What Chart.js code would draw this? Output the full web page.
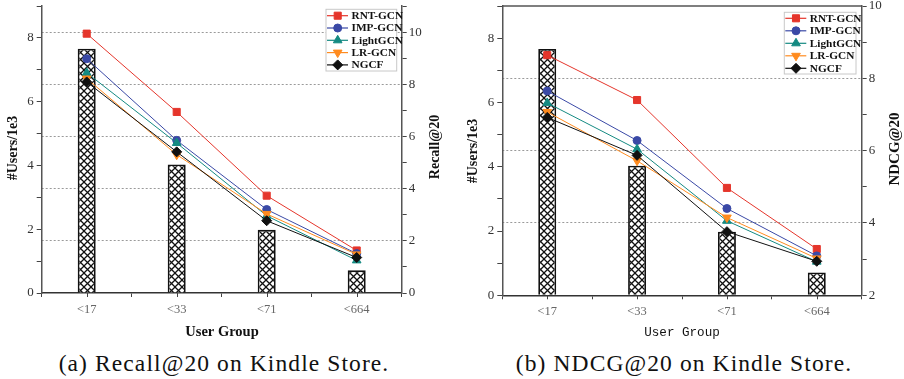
<!DOCTYPE html>
<html><head><meta charset="utf-8">
<script src="https://cdn.jsdelivr.net/npm/chart.js@4.4.0/dist/chart.umd.min.js"></script>
<style>
body{margin:0;background:#fff;width:904px;height:379px;overflow:hidden;position:relative;}
canvas{position:absolute;top:0}
.cap{position:absolute;top:349px;font-family:"Liberation Serif","Times New Roman",serif;font-size:23.5px;letter-spacing:1.1px;color:#111;white-space:nowrap;transform:translateX(-50%);line-height:28px}
</style></head><body>
<canvas id="c1" width="460" height="345" style="left:0"></canvas>
<canvas id="c2" width="444" height="345" style="left:460px"></canvas>
<div class="cap" style="left:224px">(a) Recall@20 on Kindle Store.</div>
<div class="cap" style="left:684px">(b) NDCG@20 on Kindle Store.</div>
<script>
// ---- data ----
const groups = ['<17', '<33', '<71', '<664'];
const users = [7.66, 4.03, 1.98, 0.71];
const methods = ['RNT-GCN', 'IMP-GCN', 'LightGCN', 'LR-GCN', 'NGCF'];
const recallRNT   = [9.94, 6.94, 3.73, 1.63];
const recallIMP   = [8.98, 5.85, 3.20, 1.51];
const recallLight = [8.44, 5.75, 2.96, 1.25];
const recallLR    = [8.22, 5.30, 3.03, 1.48];
const recallNGCF  = [8.09, 5.41, 2.77, 1.36];
const ndcgRNT   = [8.64, 7.40, 4.97, 3.28];
const ndcgIMP   = [7.65, 6.28, 4.40, 3.09];
const ndcgLight = [7.32, 6.04, 4.06, 2.93];
const ndcgLR    = [7.07, 5.72, 4.15, 3.02];
const ndcgNGCF  = [6.92, 5.87, 3.76, 2.94];

// ---- styles ----
const colors = ['#e5352b', '#3a49a6', '#148a82', '#ff8b1f', '#111111'];
const pStyles = ['rect', 'circle', 'triangle', 'triangle', 'rectRot'];
const pRot = [0, 0, 0, 180, 0];
const pRad = [5, 4, 5, 5, 5];
const SERIF = '"Liberation Serif", "Times New Roman", serif';

function hatchPattern() {
  const c = document.createElement('canvas');
  const n = 7;
  c.width = n; c.height = n;
  const g = c.getContext('2d');
  g.fillStyle = '#fff'; g.fillRect(0, 0, n, n);
  g.strokeStyle = '#111'; g.lineWidth = 1.3;
  g.beginPath();
  g.moveTo(-1, -1); g.lineTo(n + 1, n + 1);
  g.moveTo(n + 1, -1); g.lineTo(-1, n + 1);
  g.stroke();
  return g.createPattern(c, 'repeat');
}

const decor = {
  id: 'decor',
  afterDraw(chart, args, o) {
    const ctx = chart.ctx, a = chart.chartArea;
    ctx.save();
    if (o.topBorder) {
      ctx.strokeStyle = '#555'; ctx.lineWidth = 1.5;
      ctx.beginPath(); ctx.moveTo(a.left, a.top); ctx.lineTo(a.right, a.top); ctx.stroke();
    }
    const xs = chart.scales.x;
    ctx.strokeStyle = '#444'; ctx.lineWidth = 1;
    groups.forEach((g, i) => {
      const px = Math.round(xs.getPixelForValue(i)) + 0.5;
      ctx.beginPath(); ctx.moveTo(px, a.bottom); ctx.lineTo(px, a.bottom + 4); ctx.stroke();
    });
    o.titles.forEach(t => {
      ctx.save();
      ctx.translate(t.x, t.y); ctx.rotate(t.rot || 0);
      ctx.font = t.font; ctx.fillStyle = '#111';
      ctx.textAlign = 'center'; ctx.textBaseline = 'middle';
      ctx.fillText(t.text, 0, 0);
      ctx.restore();
    });
    const L = o.legend;
    ctx.fillStyle = '#fff'; ctx.fillRect(L.x, L.y, L.w, L.h);
    ctx.strokeStyle = '#c8c8c8'; ctx.lineWidth = 1; ctx.strokeRect(L.x, L.y, L.w, L.h);
    chart.data.datasets.filter(d => d.type === 'line').forEach((d, i) => {
      const y = L.y + L.first + i * L.gap;
      ctx.strokeStyle = d.borderColor; ctx.lineWidth = 1.2;
      ctx.beginPath(); ctx.moveTo(L.x + 1, y); ctx.lineTo(L.x + 22, y); ctx.stroke();
      ctx.fillStyle = d.backgroundColor; ctx.strokeStyle = d.borderColor; ctx.lineWidth = 1;
      Chart.helpers.drawPoint(ctx, {pointStyle: d.pointStyle, rotation: d.pointRotation || 0, radius: d.pointRadius, borderWidth: 1}, L.x + 11.7, y);
      ctx.fillStyle = '#111'; ctx.font = 'bold 11.3px ' + SERIF;
      ctx.textAlign = 'left'; ctx.textBaseline = 'middle';
      ctx.fillText(d.label, L.x + 25.5, y + 0.5);
    });
    ctx.restore();
  }
};

function lineSets(series) {
  return series.map((s, i) => ({
    type: 'line', label: methods[i], data: s, yAxisID: 'y1',
    borderColor: colors[i], backgroundColor: colors[i], borderWidth: 1,
    pointStyle: pStyles[i], pointRotation: pRot[i], pointRadius: pRad[i],
    pointBorderWidth: 1, pointHoverRadius: pRad[i], order: 5 - i
  }));
}

function build(id, series, y1min, y1max, geo, plug) {
  const canvas = document.getElementById(id);
  const pattern = hatchPattern();
  const serif = SERIF;
  return new Chart(canvas, {
    data: {
      labels: groups,
      datasets: [{
        type: 'bar', label: '#Users/1e3', data: users, yAxisID: 'y',
        backgroundColor: pattern, borderColor: '#111', borderWidth: 1.8,
        barPercentage: 0.2, categoryPercentage: 1, order: 10
      }].concat(lineSets(series))
    },
    options: {
      responsive: false, animation: false, devicePixelRatio: 1,
      layout: {padding: {top: geo.top, left: 0, right: 0, bottom: 0}},
      plugins: {legend: {display: false}, tooltip: {enabled: false}, decor: plug},
      scales: {
        x: {
          type: 'category', offset: true,
          grid: {offset: true, drawOnChartArea: false, drawTicks: true, tickLength: 4, tickColor: '#444'},
          border: {display: true, color: '#333', width: 1.5},
          ticks: {color: '#666', font: {family: serif, size: 12.5}, padding: 5, maxRotation: 0, autoSkip: false},
          afterFit: s => { s.height = geo.xH; s.paddingLeft = 0; s.paddingRight = 0; }
        },
        y: {
          position: 'left', min: 0, max: 9,
          grid: {drawOnChartArea: false, drawTicks: true, tickLength: 5, tickColor: '#444'},
          border: {display: true, color: '#555', width: 1.5},
          ticks: {stepSize: 1, color: '#333', font: {family: serif, size: 13}, padding: 3,
                  callback: v => (v % 2 === 0 ? String(v) : '')},
          afterFit: s => { s.width = geo.yW; s.paddingTop = 0; s.paddingBottom = 0; }
        },
        y1: {
          position: 'right', min: y1min, max: y1max,
          grid: {
            drawOnChartArea: true, drawTicks: true, tickLength: 5, tickColor: '#444', lineWidth: 1,
            color: c => { const v = c.tick ? c.tick.value : NaN; return (v % 2 === 0 && v > y1min && v < y1max) ? '#9a9a9a' : 'rgba(0,0,0,0)'; }
          },
          border: {display: true, color: '#555', width: 1.5, dash: [2, 2]},
          ticks: {stepSize: 1, color: '#333', font: {family: serif, size: 13}, padding: 2,
                  callback: v => (v % 2 === 0 ? String(v) : '')},
          afterFit: s => { s.width = geo.y1W; s.paddingTop = 0; s.paddingBottom = 0; }
        }
      }
    },
    plugins: [decor]
  });
}

build('c1', [recallRNT, recallIMP, recallLight, recallLR, recallNGCF], 0, 11,
  {top: 3.5, xH: 52, yW: 41.7, y1W: 58.3},
  {
    topBorder: false,
    titles: [
      {text: '#Users/1e3', x: 13, y: 148, rot: -Math.PI / 2, font: 'bold 14px ' + SERIF},
      {text: 'Recall@20', x: 435, y: 147, rot: -Math.PI / 2, font: 'bold 14px ' + SERIF},
      {text: 'User Group', x: 222, y: 332, rot: 0, font: 'bold 14.5px ' + SERIF}
    ],
    legend: {x: 326, y: 9.3, w: 70.7, h: 61.7, first: 6.4, gap: 12.3}
  });

build('c2', [ndcgRNT, ndcgIMP, ndcgLight, ndcgLR, ndcgNGCF], 2, 10,
  {top: 5.7, xH: 49.7, yW: 42.3, y1W: 42.3},
  {
    topBorder: true,
    titles: [
      {text: '#Users/1e3', x: 13.5, y: 151, rot: -Math.PI / 2, font: 'bold 14px ' + SERIF},
      {text: 'NDCG@20', x: 435, y: 149, rot: -Math.PI / 2, font: 'bold 15px ' + SERIF},
      {text: 'User Group', x: 222, y: 333, rot: 0, font: '12.6px "Liberation Mono", monospace'}
    ],
    legend: {x: 324.3, y: 12.3, w: 71.7, h: 61.7, first: 6, gap: 12.5}
  });
</script>
</body></html>
